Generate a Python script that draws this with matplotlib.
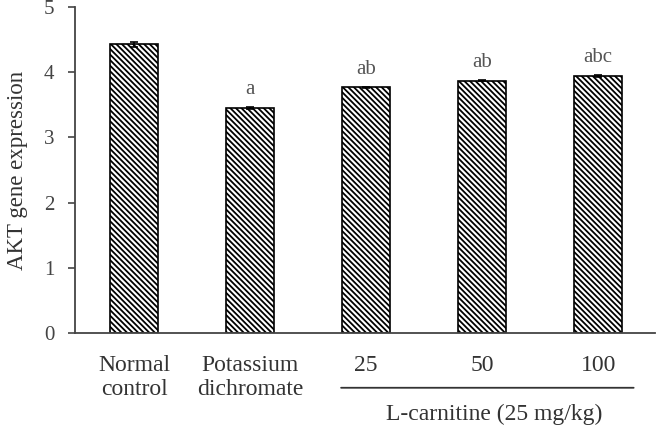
import numpy as np
import matplotlib.pyplot as plt

plt.rcParams['font.family'] = ['Liberation Serif', 'DejaVu Serif']
plt.rcParams['hatch.linewidth'] = 1.3

# data
groups = ["Normal\ncontrol", "Potassium\ndichromate", "25", "50", "100"]
values = [4.43, 3.45, 3.77, 3.87, 3.94]
errors = [0.04, 0.02, 0.005, 0.01, 0.015]
letters = ["", "a", "ab", "ab", "abc"]

fig = plt.figure(figsize=(6.58, 4.28), dpi=100)
ax = fig.add_axes([75 / 658, 1 - 333 / 428, 580 / 658, 326 / 428])

x = np.arange(len(groups))
ax.bar(x, values, width=0.41, color="white", edgecolor="black",
       linewidth=1.2, hatch="\\\\\\\\\\\\", zorder=2)
ax.errorbar(x, values, yerr=errors, fmt="none", ecolor="black",
            elinewidth=1.2, capsize=3, capthick=1.2, zorder=3)

for xi, v, e, lab in zip(x, values, errors, letters):
    if lab:
        ax.text(xi, v + e + 0.12, lab, ha="center", va="bottom",
                fontsize=15, color="#555555")

ax.set_xlim(-0.51, 4.49)
ax.set_ylim(0, 5)
ax.set_yticks([0, 1, 2, 3, 4, 5])
ax.tick_params(axis="y", direction="out", length=5, width=1.2,
               labelsize=15, colors="#444444", pad=10)
ax.set_xticks(x)
ax.set_xticklabels(groups, fontsize=17, color="#333333", linespacing=1.15)
ax.tick_params(axis="x", length=0, pad=16)

for side in ["top", "right"]:
    ax.spines[side].set_visible(False)
for side in ["left", "bottom"]:
    ax.spines[side].set_linewidth(1.3)
    ax.spines[side].set_color("#444444")

ax.set_ylabel("AKT gene expression", fontsize=16.5, color="#333333", labelpad=11)

# group line and label for L-carnitine doses
ax.annotate("", xy=(1.76, -0.84), xytext=(4.33, -0.84),
            xycoords="data", annotation_clip=False,
            arrowprops=dict(arrowstyle="-", lw=1.3, color="#333333"))
ax.text(3.1, -1.25, "L-carnitine (25 mg/kg)", ha="center", va="center",
        fontsize=17, color="#333333", clip_on=False)

fig.savefig("out.png", dpi=100)
